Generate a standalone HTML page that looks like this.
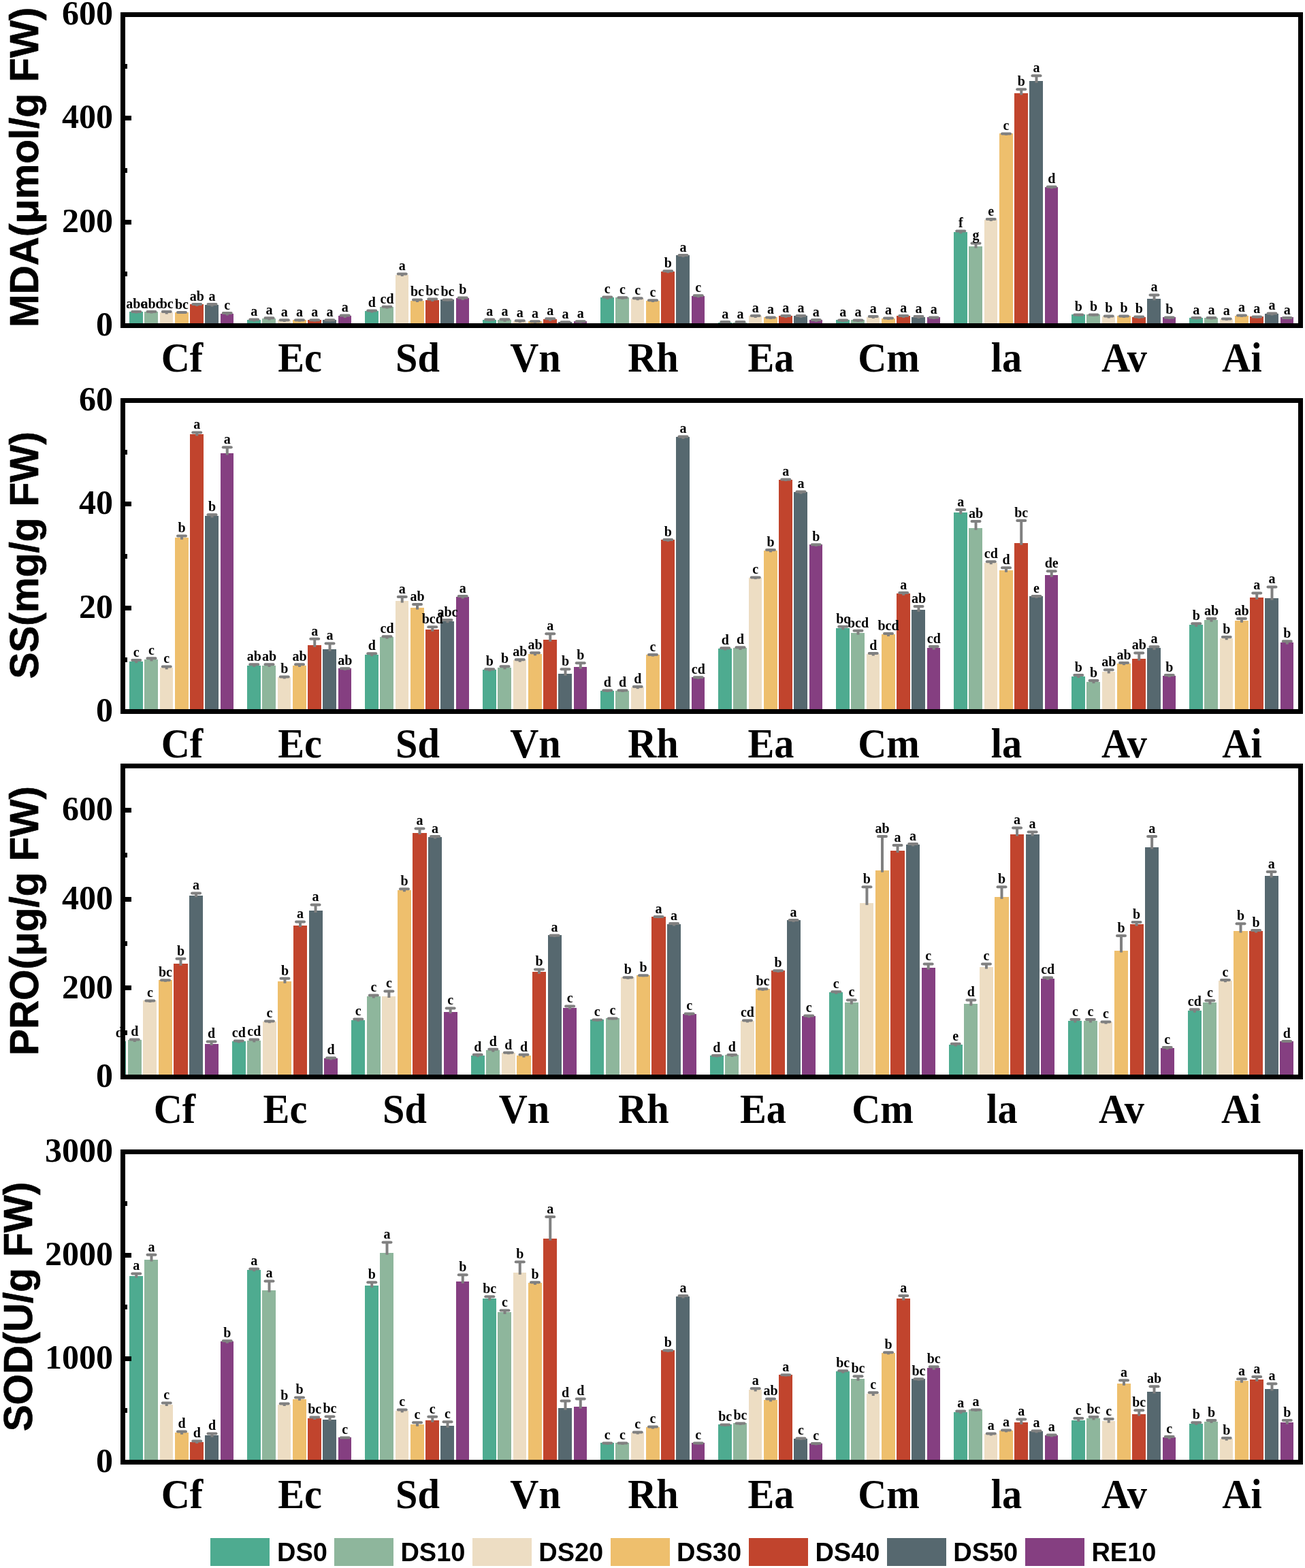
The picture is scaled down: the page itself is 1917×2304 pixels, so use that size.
<!DOCTYPE html>
<html lang="en">
<head>
<meta charset="utf-8">
<title>Physiological indices under drought stress</title>
<style>
html,body{margin:0;padding:0;background:#fff;}
body{width:1917px;height:2304px;overflow:hidden;}
svg{display:block;}
.s{font-family:"Liberation Serif","DejaVu Serif",serif;font-weight:bold;fill:#000;}
.a{font-family:"Liberation Sans","DejaVu Sans",sans-serif;font-weight:bold;fill:#000;}
.l{font-size:20px;text-anchor:middle;}
.t{font-size:50px;text-anchor:end;}
.x{font-size:60.5px;text-anchor:middle;}
.y{font-size:58.45px;text-anchor:middle;stroke:#000;stroke-width:0.6px;stroke-linejoin:round;}
.g{font-size:38px;text-anchor:start;}
.e{stroke:#808080;stroke-width:4;fill:none;}
.c{stroke:#808080;stroke-width:4;fill:none;stroke-linecap:round;}
.k{stroke:#000;stroke-width:7;fill:none;}
</style>
</head>
<body>
<svg width="1917" height="2304" viewBox="0 0 1917 2304">
<rect x="0" y="0" width="1917" height="2304" fill="#fff"/>
<defs>
<clipPath id="cp0"><rect x="180.5" y="21.5" width="1730" height="457"/></clipPath>
<clipPath id="cp1"><rect x="180.5" y="588.5" width="1730" height="457"/></clipPath>
<clipPath id="cp2"><rect x="180.5" y="1125.5" width="1730" height="457"/></clipPath>
<clipPath id="cp3"><rect x="180.5" y="1692.5" width="1730" height="456"/></clipPath>
</defs>
<g id="panel1">
<g clip-path="url(#cp0)" shape-rendering="crispEdges">
<rect x="190" y="458" width="20" height="20" fill="#4EAB90"/>
<rect x="212" y="458" width="20" height="20" fill="#8EB69C"/>
<rect x="235" y="459" width="19" height="19" fill="#EDDDC3"/>
<rect x="257" y="459" width="20" height="19" fill="#EEBF6D"/>
<rect x="279" y="447" width="20" height="31" fill="#C1442D"/>
<rect x="301" y="448" width="20" height="30" fill="#56686F"/>
<rect x="324" y="461" width="19" height="17" fill="#853F81"/>
<rect x="363" y="470" width="20" height="8" fill="#4EAB90"/>
<rect x="385" y="468" width="20" height="10" fill="#8EB69C"/>
<rect x="408" y="470" width="19" height="8" fill="#EDDDC3"/>
<rect x="430" y="470" width="20" height="8" fill="#EEBF6D"/>
<rect x="452" y="470" width="20" height="8" fill="#C1442D"/>
<rect x="474" y="470" width="20" height="8" fill="#56686F"/>
<rect x="497" y="464" width="19" height="14" fill="#853F81"/>
<rect x="536" y="457" width="20" height="21" fill="#4EAB90"/>
<rect x="558" y="451" width="20" height="27" fill="#8EB69C"/>
<rect x="581" y="404" width="19" height="74" fill="#EDDDC3"/>
<rect x="603" y="442" width="20" height="36" fill="#EEBF6D"/>
<rect x="625" y="441" width="20" height="37" fill="#C1442D"/>
<rect x="647" y="440" width="20" height="38" fill="#56686F"/>
<rect x="670" y="438" width="19" height="40" fill="#853F81"/>
<rect x="709" y="470" width="20" height="8" fill="#4EAB90"/>
<rect x="731" y="470" width="20" height="8" fill="#8EB69C"/>
<rect x="754" y="472" width="19" height="6" fill="#EDDDC3"/>
<rect x="776" y="472" width="20" height="6" fill="#EEBF6D"/>
<rect x="798" y="469" width="20" height="9" fill="#C1442D"/>
<rect x="820" y="473" width="20" height="5" fill="#56686F"/>
<rect x="843" y="472" width="19" height="6" fill="#853F81"/>
<rect x="882" y="437" width="20" height="41" fill="#4EAB90"/>
<rect x="904" y="437" width="20" height="41" fill="#8EB69C"/>
<rect x="927" y="439" width="19" height="39" fill="#EDDDC3"/>
<rect x="949" y="442" width="20" height="36" fill="#EEBF6D"/>
<rect x="971" y="399" width="20" height="79" fill="#C1442D"/>
<rect x="993" y="375" width="20" height="103" fill="#56686F"/>
<rect x="1016" y="435" width="19" height="43" fill="#853F81"/>
<rect x="1055" y="474" width="20" height="4" fill="#4EAB90"/>
<rect x="1077" y="474" width="20" height="4" fill="#8EB69C"/>
<rect x="1100" y="464" width="19" height="14" fill="#EDDDC3"/>
<rect x="1122" y="466" width="20" height="12" fill="#EEBF6D"/>
<rect x="1144" y="464" width="20" height="14" fill="#C1442D"/>
<rect x="1166" y="464" width="20" height="14" fill="#56686F"/>
<rect x="1189" y="470" width="19" height="8" fill="#853F81"/>
<rect x="1228" y="470" width="20" height="8" fill="#4EAB90"/>
<rect x="1250" y="470" width="20" height="8" fill="#8EB69C"/>
<rect x="1273" y="466" width="19" height="12" fill="#EDDDC3"/>
<rect x="1295" y="468" width="20" height="10" fill="#EEBF6D"/>
<rect x="1317" y="464" width="20" height="14" fill="#C1442D"/>
<rect x="1339" y="466" width="20" height="12" fill="#56686F"/>
<rect x="1362" y="466" width="19" height="12" fill="#853F81"/>
<rect x="1401" y="341" width="20" height="137" fill="#4EAB90"/>
<rect x="1423" y="362" width="20" height="116" fill="#8EB69C"/>
<rect x="1446" y="323" width="19" height="155" fill="#EDDDC3"/>
<rect x="1468" y="196" width="20" height="282" fill="#EEBF6D"/>
<rect x="1490" y="137" width="20" height="341" fill="#C1442D"/>
<rect x="1512" y="119" width="20" height="359" fill="#56686F"/>
<rect x="1535" y="275" width="19" height="203" fill="#853F81"/>
<rect x="1574" y="462" width="20" height="16" fill="#4EAB90"/>
<rect x="1596" y="462" width="20" height="16" fill="#8EB69C"/>
<rect x="1619" y="465" width="19" height="13" fill="#EDDDC3"/>
<rect x="1641" y="464" width="20" height="14" fill="#EEBF6D"/>
<rect x="1663" y="466" width="20" height="12" fill="#C1442D"/>
<rect x="1685" y="439" width="20" height="39" fill="#56686F"/>
<rect x="1708" y="466" width="19" height="12" fill="#853F81"/>
<rect x="1747" y="467" width="20" height="11" fill="#4EAB90"/>
<rect x="1769" y="467" width="20" height="11" fill="#8EB69C"/>
<rect x="1792" y="469" width="19" height="9" fill="#EDDDC3"/>
<rect x="1814" y="464" width="20" height="14" fill="#EEBF6D"/>
<rect x="1836" y="465" width="20" height="13" fill="#C1442D"/>
<rect x="1858" y="461" width="20" height="17" fill="#56686F"/>
<rect x="1881" y="466" width="19" height="12" fill="#853F81"/>
</g>
<g clip-path="url(#cp0)">
<path class="e" d="M200.25 458.1V460.6"/><path class="c" d="M194.25 458.1H206.25"/>
<path class="e" d="M222.5 458.1V460.6"/><path class="c" d="M216.5 458.1H228.5"/>
<path class="e" d="M244.75 458.1V461.5"/><path class="c" d="M238.75 458.1H250.75"/>
<path class="e" d="M267 459.1V461.1"/><path class="c" d="M261 459.1H273"/>
<path class="e" d="M289.25 446.9V449.9"/><path class="c" d="M283.25 446.9H295.25"/>
<path class="e" d="M311.5 446.9V450.4"/><path class="c" d="M305.5 446.9H317.5"/>
<path class="e" d="M333.75 460.1V463.5"/><path class="c" d="M327.75 460.1H339.75"/>
<path class="e" d="M373.25 469.5V472.6"/><path class="c" d="M367.25 469.5H379.25"/>
<path class="e" d="M395.5 467.3V470.6"/><path class="c" d="M389.5 467.3H401.5"/>
<path class="e" d="M417.75 470.3V473"/><path class="c" d="M411.75 470.3H423.75"/>
<path class="e" d="M440 470.3V472.6"/><path class="c" d="M434 470.3H446"/>
<path class="e" d="M462.25 470.3V472.6"/><path class="c" d="M456.25 470.3H468.25"/>
<path class="e" d="M484.5 470.3V472.6"/><path class="c" d="M478.5 470.3H490.5"/>
<path class="e" d="M506.75 463.5V467"/><path class="c" d="M500.75 463.5H512.75"/>
<path class="e" d="M546.25 456.5V459.6"/><path class="c" d="M540.25 456.5H552.25"/>
<path class="e" d="M568.5 450.7V453.6"/><path class="c" d="M562.5 450.7H574.5"/>
<path class="e" d="M590.75 402.5V406"/><path class="c" d="M584.75 402.5H596.75"/>
<path class="e" d="M613 440.4V444.1"/><path class="c" d="M607 440.4H619"/>
<path class="e" d="M635.25 439.6V443.1"/><path class="c" d="M629.25 439.6H641.25"/>
<path class="e" d="M657.5 440.4V442.5"/><path class="c" d="M651.5 440.4H663.5"/>
<path class="e" d="M679.75 437.4V440.9"/><path class="c" d="M673.75 437.4H685.75"/>
<path class="e" d="M719.25 469.6V472.1"/><path class="c" d="M713.25 469.6H725.25"/>
<path class="e" d="M741.5 469.2V472.7"/><path class="c" d="M735.5 469.2H747.5"/>
<path class="e" d="M763.75 471.2V474.1"/><path class="c" d="M757.75 471.2H769.75"/>
<path class="e" d="M786 472.2V474.7"/><path class="c" d="M780 472.2H792"/>
<path class="e" d="M808.25 468.2V471.7"/><path class="c" d="M802.25 468.2H814.25"/>
<path class="e" d="M830.5 473.2V475.7"/><path class="c" d="M824.5 473.2H836.5"/>
<path class="e" d="M852.75 472.2V474.7"/><path class="c" d="M846.75 472.2H858.75"/>
<path class="e" d="M892.25 436.4V439.7"/><path class="c" d="M886.25 436.4H898.25"/>
<path class="e" d="M914.5 437.2V439.7"/><path class="c" d="M908.5 437.2H920.5"/>
<path class="e" d="M936.75 438.2V441.3"/><path class="c" d="M930.75 438.2H942.75"/>
<path class="e" d="M959 441.2V444.1"/><path class="c" d="M953 441.2H965"/>
<path class="e" d="M981.25 398.3V401.2"/><path class="c" d="M975.25 398.3H987.25"/>
<path class="e" d="M1003.5 375V377.9"/><path class="c" d="M997.5 375H1009.5"/>
<path class="e" d="M1025.75 434.2V437.3"/><path class="c" d="M1019.75 434.2H1031.75"/>
<path class="e" d="M1065.25 473.1V476"/><path class="c" d="M1059.25 473.1H1071.25"/>
<path class="e" d="M1087.5 473.1V476"/><path class="c" d="M1081.5 473.1H1093.5"/>
<path class="e" d="M1109.75 464.1V467"/><path class="c" d="M1103.75 464.1H1115.75"/>
<path class="e" d="M1132 466.5V469"/><path class="c" d="M1126 466.5H1138"/>
<path class="e" d="M1154.25 464.1V467"/><path class="c" d="M1148.25 464.1H1160.25"/>
<path class="e" d="M1176.5 464.1V467"/><path class="c" d="M1170.5 464.1H1182.5"/>
<path class="e" d="M1198.75 470.1V473"/><path class="c" d="M1192.75 470.1H1204.75"/>
<path class="e" d="M1238.25 470.5V473"/><path class="c" d="M1232.25 470.5H1244.25"/>
<path class="e" d="M1260.5 470.5V473"/><path class="c" d="M1254.5 470.5H1266.5"/>
<path class="e" d="M1282.75 465.1V468"/><path class="c" d="M1276.75 465.1H1288.75"/>
<path class="e" d="M1305 467.5V470"/><path class="c" d="M1299 467.5H1311"/>
<path class="e" d="M1327.25 464.1V467"/><path class="c" d="M1321.25 464.1H1333.25"/>
<path class="e" d="M1349.5 465.1V468"/><path class="c" d="M1343.5 465.1H1355.5"/>
<path class="e" d="M1371.75 466.5V469"/><path class="c" d="M1365.75 466.5H1377.75"/>
<path class="e" d="M1411.25 339.5V343.3"/><path class="c" d="M1405.25 339.5H1417.25"/>
<path class="e" d="M1433.5 357.4V364.5"/><path class="c" d="M1427.5 357.4H1439.5"/>
<path class="e" d="M1455.75 322.1V325.1"/><path class="c" d="M1449.75 322.1H1461.75"/>
<path class="e" d="M1478 196.4V198.8"/><path class="c" d="M1472 196.4H1484"/>
<path class="e" d="M1500.25 131.2V139.6"/><path class="c" d="M1494.25 131.2H1506.25"/>
<path class="e" d="M1522.5 111.3V121.8"/><path class="c" d="M1516.5 111.3H1528.5"/>
<path class="e" d="M1544.75 274.5V277.3"/><path class="c" d="M1538.75 274.5H1550.75"/>
<path class="e" d="M1584.25 462.4V464.6"/><path class="c" d="M1578.25 462.4H1590.25"/>
<path class="e" d="M1606.5 462.4V464.6"/><path class="c" d="M1600.5 462.4H1612.5"/>
<path class="e" d="M1628.75 464.5V467.6"/><path class="c" d="M1622.75 464.5H1634.75"/>
<path class="e" d="M1651 464.5V467"/><path class="c" d="M1645 464.5H1657"/>
<path class="e" d="M1673.25 465.5V468.2"/><path class="c" d="M1667.25 465.5H1679.25"/>
<path class="e" d="M1695.5 433.6V441.2"/><path class="c" d="M1689.5 433.6H1701.5"/>
<path class="e" d="M1717.75 466.5V469"/><path class="c" d="M1711.75 466.5H1723.75"/>
<path class="e" d="M1757.25 467.1V469.6"/><path class="c" d="M1751.25 467.1H1763.25"/>
<path class="e" d="M1779.5 467.1V469.6"/><path class="c" d="M1773.5 467.1H1785.5"/>
<path class="e" d="M1801.75 468.5V471.1"/><path class="c" d="M1795.75 468.5H1807.75"/>
<path class="e" d="M1824 463.4V466"/><path class="c" d="M1818 463.4H1830"/>
<path class="e" d="M1846.25 465.5V467.6"/><path class="c" d="M1840.25 465.5H1852.25"/>
<path class="e" d="M1868.5 460.4V463.5"/><path class="c" d="M1862.5 460.4H1874.5"/>
<path class="e" d="M1890.75 467.1V469"/><path class="c" d="M1884.75 467.1H1896.75"/>
</g>
<g class="s l" transform="scale(1.0 1)">
<text x="200.25" y="452.9">abc</text>
<text x="222.5" y="452.9">abc</text>
<text x="244.75" y="452.9">bc</text>
<text x="267" y="453.9">bc</text>
<text x="289.25" y="441.7">ab</text>
<text x="311.5" y="441.7">a</text>
<text x="333.75" y="454.9">c</text>
<text x="373.25" y="464.3">a</text>
<text x="395.5" y="462.1">a</text>
<text x="417.75" y="465.1">a</text>
<text x="440" y="465.1">a</text>
<text x="462.25" y="465.1">a</text>
<text x="484.5" y="465.1">a</text>
<text x="506.75" y="458.3">a</text>
<text x="546.25" y="451.3">d</text>
<text x="568.5" y="445.5">cd</text>
<text x="590.75" y="397.3">a</text>
<text x="613" y="435.2">bc</text>
<text x="635.25" y="434.4">bc</text>
<text x="657.5" y="435.2">bc</text>
<text x="679.75" y="432.2">b</text>
<text x="719.25" y="464.4">a</text>
<text x="741.5" y="464">a</text>
<text x="763.75" y="466">a</text>
<text x="786" y="467">a</text>
<text x="808.25" y="463">a</text>
<text x="830.5" y="468">a</text>
<text x="852.75" y="467">a</text>
<text x="892.25" y="431.2">c</text>
<text x="914.5" y="432">c</text>
<text x="936.75" y="433">c</text>
<text x="959" y="436">c</text>
<text x="981.25" y="393.1">b</text>
<text x="1003.5" y="369.8">a</text>
<text x="1025.75" y="429">c</text>
<text x="1065.25" y="467.9">a</text>
<text x="1087.5" y="467.9">a</text>
<text x="1109.75" y="458.9">a</text>
<text x="1132" y="461.3">a</text>
<text x="1154.25" y="458.9">a</text>
<text x="1176.5" y="458.9">a</text>
<text x="1198.75" y="464.9">a</text>
<text x="1238.25" y="465.3">a</text>
<text x="1260.5" y="465.3">a</text>
<text x="1282.75" y="459.9">a</text>
<text x="1305" y="462.3">a</text>
<text x="1327.25" y="458.9">a</text>
<text x="1349.5" y="459.9">a</text>
<text x="1371.75" y="461.3">a</text>
<text x="1411.25" y="334.3">f</text>
<text x="1433.5" y="352.2">g</text>
<text x="1455.75" y="316.9">e</text>
<text x="1478" y="191.2">c</text>
<text x="1500.25" y="126">b</text>
<text x="1522.5" y="106.1">a</text>
<text x="1544.75" y="269.3">d</text>
<text x="1584.25" y="457.2">b</text>
<text x="1606.5" y="457.2">b</text>
<text x="1628.75" y="459.3">b</text>
<text x="1651" y="459.3">b</text>
<text x="1673.25" y="460.3">b</text>
<text x="1695.5" y="428.4">a</text>
<text x="1717.75" y="461.3">b</text>
<text x="1757.25" y="461.9">a</text>
<text x="1779.5" y="461.9">a</text>
<text x="1801.75" y="463.3">a</text>
<text x="1824" y="458.2">a</text>
<text x="1846.25" y="460.3">a</text>
<text x="1868.5" y="455.2">a</text>
<text x="1890.75" y="461.9">a</text>
</g>
<rect class="k" x="180.5" y="21.5" width="1730" height="457"/>
<path class="k" d="M180.5 478.5H193M180.5 326.5H193M180.5 173.5H193M180.5 21.5H193M180.5 402.5H187M180.5 250.5H187M180.5 97.5H187"/>
<g class="s t">
<text x="166" y="493.1">0</text>
<text x="166" y="340.77">200</text>
<text x="166" y="188.43">400</text>
<text x="166" y="36.1">600</text>
</g>
<text class="a y" transform="translate(55.5 245.75) rotate(-90) scale(1 1.02)">MDA(μmol/g FW)</text>
<g class="s x" transform="scale(0.963 1)">
<text x="277.78" y="546">Cf</text>
<text x="457.42" y="546">Ec</text>
<text x="637.07" y="546">Sd</text>
<text x="816.72" y="546">Vn</text>
<text x="996.37" y="546">Rh</text>
<text x="1176.01" y="546">Ea</text>
<text x="1355.66" y="546">Cm</text>
<text x="1535.31" y="546">la</text>
<text x="1714.95" y="546">Av</text>
<text x="1894.6" y="546">Ai</text>
</g>
</g>
<g id="panel2">
<g clip-path="url(#cp1)" shape-rendering="crispEdges">
<rect x="190" y="972" width="20" height="73" fill="#4EAB90"/>
<rect x="212" y="969" width="20" height="76" fill="#8EB69C"/>
<rect x="235" y="981" width="19" height="64" fill="#EDDDC3"/>
<rect x="257" y="790" width="20" height="255" fill="#EEBF6D"/>
<rect x="279" y="638" width="20" height="407" fill="#C1442D"/>
<rect x="301" y="758" width="20" height="287" fill="#56686F"/>
<rect x="324" y="666" width="19" height="379" fill="#853F81"/>
<rect x="363" y="978" width="20" height="67" fill="#4EAB90"/>
<rect x="385" y="978" width="20" height="67" fill="#8EB69C"/>
<rect x="408" y="995" width="19" height="50" fill="#EDDDC3"/>
<rect x="430" y="978" width="20" height="67" fill="#EEBF6D"/>
<rect x="452" y="948" width="20" height="97" fill="#C1442D"/>
<rect x="474" y="954" width="20" height="91" fill="#56686F"/>
<rect x="497" y="982" width="19" height="63" fill="#853F81"/>
<rect x="536" y="962" width="20" height="83" fill="#4EAB90"/>
<rect x="558" y="936" width="20" height="109" fill="#8EB69C"/>
<rect x="581" y="883" width="19" height="162" fill="#EDDDC3"/>
<rect x="603" y="893" width="20" height="152" fill="#EEBF6D"/>
<rect x="625" y="925" width="20" height="120" fill="#C1442D"/>
<rect x="647" y="913" width="20" height="132" fill="#56686F"/>
<rect x="670" y="877" width="19" height="168" fill="#853F81"/>
<rect x="709" y="984" width="20" height="61" fill="#4EAB90"/>
<rect x="731" y="981" width="20" height="64" fill="#8EB69C"/>
<rect x="754" y="970" width="19" height="75" fill="#EDDDC3"/>
<rect x="776" y="961" width="20" height="84" fill="#EEBF6D"/>
<rect x="798" y="940" width="20" height="105" fill="#C1442D"/>
<rect x="820" y="990" width="20" height="55" fill="#56686F"/>
<rect x="843" y="980" width="19" height="65" fill="#853F81"/>
<rect x="882" y="1015" width="20" height="30" fill="#4EAB90"/>
<rect x="904" y="1015" width="20" height="30" fill="#8EB69C"/>
<rect x="927" y="1010" width="19" height="35" fill="#EDDDC3"/>
<rect x="949" y="962" width="20" height="83" fill="#EEBF6D"/>
<rect x="971" y="793" width="20" height="252" fill="#C1442D"/>
<rect x="993" y="642" width="20" height="403" fill="#56686F"/>
<rect x="1016" y="995" width="19" height="50" fill="#853F81"/>
<rect x="1055" y="953" width="20" height="92" fill="#4EAB90"/>
<rect x="1077" y="952" width="20" height="93" fill="#8EB69C"/>
<rect x="1100" y="849" width="19" height="196" fill="#EDDDC3"/>
<rect x="1122" y="809" width="20" height="236" fill="#EEBF6D"/>
<rect x="1144" y="705" width="20" height="340" fill="#C1442D"/>
<rect x="1166" y="723" width="20" height="322" fill="#56686F"/>
<rect x="1189" y="800" width="19" height="245" fill="#853F81"/>
<rect x="1228" y="923" width="20" height="122" fill="#4EAB90"/>
<rect x="1250" y="930" width="20" height="115" fill="#8EB69C"/>
<rect x="1273" y="961" width="19" height="84" fill="#EDDDC3"/>
<rect x="1295" y="932" width="20" height="113" fill="#EEBF6D"/>
<rect x="1317" y="872" width="20" height="173" fill="#C1442D"/>
<rect x="1339" y="896" width="20" height="149" fill="#56686F"/>
<rect x="1362" y="952" width="19" height="93" fill="#853F81"/>
<rect x="1401" y="753" width="20" height="292" fill="#4EAB90"/>
<rect x="1423" y="776" width="20" height="269" fill="#8EB69C"/>
<rect x="1446" y="827" width="19" height="218" fill="#EDDDC3"/>
<rect x="1468" y="838" width="20" height="207" fill="#EEBF6D"/>
<rect x="1490" y="798" width="20" height="247" fill="#C1442D"/>
<rect x="1512" y="876" width="20" height="169" fill="#56686F"/>
<rect x="1535" y="845" width="19" height="200" fill="#853F81"/>
<rect x="1574" y="994" width="20" height="51" fill="#4EAB90"/>
<rect x="1596" y="1002" width="20" height="43" fill="#8EB69C"/>
<rect x="1619" y="987" width="19" height="58" fill="#EDDDC3"/>
<rect x="1641" y="975" width="20" height="70" fill="#EEBF6D"/>
<rect x="1663" y="968" width="20" height="77" fill="#C1442D"/>
<rect x="1685" y="952" width="20" height="93" fill="#56686F"/>
<rect x="1708" y="993" width="19" height="52" fill="#853F81"/>
<rect x="1747" y="918" width="20" height="127" fill="#4EAB90"/>
<rect x="1769" y="911" width="20" height="134" fill="#8EB69C"/>
<rect x="1792" y="938" width="19" height="107" fill="#EDDDC3"/>
<rect x="1814" y="912" width="20" height="133" fill="#EEBF6D"/>
<rect x="1836" y="878" width="20" height="167" fill="#C1442D"/>
<rect x="1858" y="879" width="20" height="166" fill="#56686F"/>
<rect x="1881" y="944" width="19" height="101" fill="#853F81"/>
</g>
<g clip-path="url(#cp1)">
<path class="e" d="M200.25 970.1V974.3"/><path class="c" d="M194.25 970.1H206.25"/>
<path class="e" d="M222.5 967.3V971.5"/><path class="c" d="M216.5 967.3H228.5"/>
<path class="e" d="M244.75 979.5V983.5"/><path class="c" d="M238.75 979.5H250.75"/>
<path class="e" d="M267 787.6V792.8"/><path class="c" d="M261 787.6H273"/>
<path class="e" d="M289.25 635.4V640.6"/><path class="c" d="M283.25 635.4H295.25"/>
<path class="e" d="M311.5 756.3V760.6"/><path class="c" d="M305.5 756.3H317.5"/>
<path class="e" d="M333.75 657.3V668.5"/><path class="c" d="M327.75 657.3H339.75"/>
<path class="e" d="M373.25 976.3V980"/><path class="c" d="M367.25 976.3H379.25"/>
<path class="e" d="M395.5 976.3V980"/><path class="c" d="M389.5 976.3H401.5"/>
<path class="e" d="M417.75 994.5V997.4"/><path class="c" d="M411.75 994.5H423.75"/>
<path class="e" d="M440 976.3V980"/><path class="c" d="M434 976.3H446"/>
<path class="e" d="M462.25 938.8V950.7"/><path class="c" d="M456.25 938.8H468.25"/>
<path class="e" d="M484.5 945.5V956.7"/><path class="c" d="M478.5 945.5H490.5"/>
<path class="e" d="M506.75 982.3V985"/><path class="c" d="M500.75 982.3H512.75"/>
<path class="e" d="M546.25 960.2V964.3"/><path class="c" d="M540.25 960.2H552.25"/>
<path class="e" d="M568.5 935.2V938.7"/><path class="c" d="M562.5 935.2H574.5"/>
<path class="e" d="M590.75 877.1V885.6"/><path class="c" d="M584.75 877.1H596.75"/>
<path class="e" d="M613 888.1V895.6"/><path class="c" d="M607 888.1H619"/>
<path class="e" d="M635.25 921.2V927.7"/><path class="c" d="M629.25 921.2H641.25"/>
<path class="e" d="M657.5 911.1V915.2"/><path class="c" d="M651.5 911.1H663.5"/>
<path class="e" d="M679.75 876.1V879.6"/><path class="c" d="M673.75 876.1H685.75"/>
<path class="e" d="M719.25 983.3V986.4"/><path class="c" d="M713.25 983.3H725.25"/>
<path class="e" d="M741.5 979.3V983.4"/><path class="c" d="M735.5 979.3H747.5"/>
<path class="e" d="M763.75 969.3V972.8"/><path class="c" d="M757.75 969.3H769.75"/>
<path class="e" d="M786 959.2V963.3"/><path class="c" d="M780 959.2H792"/>
<path class="e" d="M808.25 931.2V942.7"/><path class="c" d="M802.25 931.2H814.25"/>
<path class="e" d="M830.5 983.3V992.8"/><path class="c" d="M824.5 983.3H836.5"/>
<path class="e" d="M852.75 974.3V982.8"/><path class="c" d="M846.75 974.3H858.75"/>
<path class="e" d="M892.25 1014.5V1017.1"/><path class="c" d="M886.25 1014.5H898.25"/>
<path class="e" d="M914.5 1014.5V1017.1"/><path class="c" d="M908.5 1014.5H920.5"/>
<path class="e" d="M936.75 1009.1V1012.2"/><path class="c" d="M930.75 1009.1H942.75"/>
<path class="e" d="M959 962V964.6"/><path class="c" d="M953 962H965"/>
<path class="e" d="M981.25 793.1V795.8"/><path class="c" d="M975.25 793.1H987.25"/>
<path class="e" d="M1003.5 641.6V644.9"/><path class="c" d="M997.5 641.6H1009.5"/>
<path class="e" d="M1025.75 995.2V997.8"/><path class="c" d="M1019.75 995.2H1031.75"/>
<path class="e" d="M1065.25 952.3V955.6"/><path class="c" d="M1059.25 952.3H1071.25"/>
<path class="e" d="M1087.5 951.3V955"/><path class="c" d="M1081.5 951.3H1093.5"/>
<path class="e" d="M1109.75 848.4V851.1"/><path class="c" d="M1103.75 848.4H1115.75"/>
<path class="e" d="M1132 808.1V811.4"/><path class="c" d="M1126 808.1H1138"/>
<path class="e" d="M1154.25 704.4V707.1"/><path class="c" d="M1148.25 704.4H1160.25"/>
<path class="e" d="M1176.5 722.4V725.7"/><path class="c" d="M1170.5 722.4H1182.5"/>
<path class="e" d="M1198.75 800.2V802.8"/><path class="c" d="M1192.75 800.2H1204.75"/>
<path class="e" d="M1238.25 920.8V925.3"/><path class="c" d="M1232.25 920.8H1244.25"/>
<path class="e" d="M1260.5 926.8V932.6"/><path class="c" d="M1254.5 926.8H1266.5"/>
<path class="e" d="M1282.75 960.1V963.6"/><path class="c" d="M1276.75 960.1H1288.75"/>
<path class="e" d="M1305 931.1V935"/><path class="c" d="M1299 931.1H1311"/>
<path class="e" d="M1327.25 870.9V874.8"/><path class="c" d="M1321.25 870.9H1333.25"/>
<path class="e" d="M1349.5 891V898.9"/><path class="c" d="M1343.5 891H1355.5"/>
<path class="e" d="M1371.75 950.1V954.6"/><path class="c" d="M1365.75 950.1H1377.75"/>
<path class="e" d="M1411.25 749.1V755.6"/><path class="c" d="M1405.25 749.1H1417.25"/>
<path class="e" d="M1433.5 766.1V778.7"/><path class="c" d="M1427.5 766.1H1439.5"/>
<path class="e" d="M1455.75 825.2V829.2"/><path class="c" d="M1449.75 825.2H1461.75"/>
<path class="e" d="M1478 834.3V840.8"/><path class="c" d="M1472 834.3H1484"/>
<path class="e" d="M1500.25 765.1V800.7"/><path class="c" d="M1494.25 765.1H1506.25"/>
<path class="e" d="M1522.5 875.9V878.9"/><path class="c" d="M1516.5 875.9H1528.5"/>
<path class="e" d="M1544.75 839.3V847.8"/><path class="c" d="M1538.75 839.3H1550.75"/>
<path class="e" d="M1584.25 992V996"/><path class="c" d="M1578.25 992H1590.25"/>
<path class="e" d="M1606.5 1000.1V1004.1"/><path class="c" d="M1600.5 1000.1H1612.5"/>
<path class="e" d="M1628.75 984.3V989.5"/><path class="c" d="M1622.75 984.3H1634.75"/>
<path class="e" d="M1651 974.1V977.3"/><path class="c" d="M1645 974.1H1657"/>
<path class="e" d="M1673.25 959.5V970.6"/><path class="c" d="M1667.25 959.5H1679.25"/>
<path class="e" d="M1695.5 950.3V954.9"/><path class="c" d="M1689.5 950.3H1701.5"/>
<path class="e" d="M1717.75 992V995.1"/><path class="c" d="M1711.75 992H1723.75"/>
<path class="e" d="M1757.25 916.2V921"/><path class="c" d="M1751.25 916.2H1763.25"/>
<path class="e" d="M1779.5 909.1V913.7"/><path class="c" d="M1773.5 909.1H1785.5"/>
<path class="e" d="M1801.75 936.1V940.3"/><path class="c" d="M1795.75 936.1H1807.75"/>
<path class="e" d="M1824 909.1V914.7"/><path class="c" d="M1818 909.1H1830"/>
<path class="e" d="M1846.25 871.5V880.7"/><path class="c" d="M1840.25 871.5H1852.25"/>
<path class="e" d="M1868.5 862.4V881.8"/><path class="c" d="M1862.5 862.4H1874.5"/>
<path class="e" d="M1890.75 942.2V946.8"/><path class="c" d="M1884.75 942.2H1896.75"/>
</g>
<g class="s l" transform="scale(1.0 1)">
<text x="200.25" y="964.9">c</text>
<text x="222.5" y="962.1">c</text>
<text x="244.75" y="974.3">c</text>
<text x="267" y="782.4">b</text>
<text x="289.25" y="630.2">a</text>
<text x="311.5" y="751.1">b</text>
<text x="333.75" y="652.1">a</text>
<text x="373.25" y="971.1">ab</text>
<text x="395.5" y="971.1">ab</text>
<text x="417.75" y="989.3">b</text>
<text x="440" y="971.1">ab</text>
<text x="462.25" y="933.6">a</text>
<text x="484.5" y="940.3">a</text>
<text x="506.75" y="977.1">ab</text>
<text x="546.25" y="955">d</text>
<text x="568.5" y="930">cd</text>
<text x="590.75" y="871.9">a</text>
<text x="613" y="882.9">ab</text>
<text x="635.25" y="916">bcd</text>
<text x="657.5" y="905.9">abc</text>
<text x="679.75" y="870.9">a</text>
<text x="719.25" y="978.1">b</text>
<text x="741.5" y="974.1">b</text>
<text x="763.75" y="964.1">ab</text>
<text x="786" y="954">ab</text>
<text x="808.25" y="926">a</text>
<text x="830.5" y="978.1">b</text>
<text x="852.75" y="969.1">b</text>
<text x="892.25" y="1009.3">d</text>
<text x="914.5" y="1009.3">d</text>
<text x="936.75" y="1003.9">d</text>
<text x="959" y="956.8">c</text>
<text x="981.25" y="787.9">b</text>
<text x="1003.5" y="636.4">a</text>
<text x="1025.75" y="990">cd</text>
<text x="1065.25" y="947.1">d</text>
<text x="1087.5" y="946.1">d</text>
<text x="1109.75" y="843.2">c</text>
<text x="1132" y="802.9">b</text>
<text x="1154.25" y="699.2">a</text>
<text x="1176.5" y="717.2">a</text>
<text x="1198.75" y="795">b</text>
<text x="1238.25" y="915.6">bc</text>
<text x="1260.5" y="921.6">bcd</text>
<text x="1282.75" y="954.9">d</text>
<text x="1305" y="925.9">bcd</text>
<text x="1327.25" y="865.7">a</text>
<text x="1349.5" y="885.8">ab</text>
<text x="1371.75" y="944.9">cd</text>
<text x="1411.25" y="743.9">a</text>
<text x="1433.5" y="760.9">ab</text>
<text x="1455.75" y="820">cd</text>
<text x="1478" y="829.1">d</text>
<text x="1500.25" y="759.9">bc</text>
<text x="1522.5" y="870.7">e</text>
<text x="1544.75" y="834.1">de</text>
<text x="1584.25" y="986.8">b</text>
<text x="1606.5" y="994.9">b</text>
<text x="1628.75" y="979.1">ab</text>
<text x="1651" y="968.9">ab</text>
<text x="1673.25" y="954.3">ab</text>
<text x="1695.5" y="945.1">a</text>
<text x="1717.75" y="986.8">b</text>
<text x="1757.25" y="911">b</text>
<text x="1779.5" y="903.9">ab</text>
<text x="1801.75" y="930.9">b</text>
<text x="1824" y="903.9">ab</text>
<text x="1846.25" y="866.3">a</text>
<text x="1868.5" y="857.2">a</text>
<text x="1890.75" y="937">b</text>
</g>
<rect class="k" x="180.5" y="588.5" width="1730" height="457"/>
<path class="k" d="M180.5 1045.5H193M180.5 893.5H193M180.5 740.5H193M180.5 588.5H193M180.5 969.5H187M180.5 817.5H187M180.5 664.5H187"/>
<g class="s t">
<text x="166" y="1060.1">0</text>
<text x="166" y="907.77">20</text>
<text x="166" y="755.43">40</text>
<text x="166" y="603.1">60</text>
</g>
<text class="a y" transform="translate(55.5 815.85) rotate(-90) scale(1 1.02)">SS(mg/g FW)</text>
<g class="s x" transform="scale(0.963 1)">
<text x="277.78" y="1113">Cf</text>
<text x="457.42" y="1113">Ec</text>
<text x="637.07" y="1113">Sd</text>
<text x="816.72" y="1113">Vn</text>
<text x="996.37" y="1113">Rh</text>
<text x="1176.01" y="1113">Ea</text>
<text x="1355.66" y="1113">Cm</text>
<text x="1535.31" y="1113">la</text>
<text x="1714.95" y="1113">Av</text>
<text x="1894.6" y="1113">Ai</text>
</g>
</g>
<g id="panel3">
<g clip-path="url(#cp2)" shape-rendering="crispEdges">
<rect x="165" y="1530" width="20" height="52" fill="#4EAB90"/>
<rect x="188" y="1528" width="20" height="54" fill="#8EB69C"/>
<rect x="210" y="1470" width="20" height="112" fill="#EDDDC3"/>
<rect x="233" y="1440" width="20" height="142" fill="#EEBF6D"/>
<rect x="255" y="1416" width="21" height="166" fill="#C1442D"/>
<rect x="278" y="1316" width="20" height="266" fill="#56686F"/>
<rect x="301" y="1534" width="20" height="48" fill="#853F81"/>
<rect x="341" y="1530" width="20" height="52" fill="#4EAB90"/>
<rect x="363" y="1529" width="20" height="53" fill="#8EB69C"/>
<rect x="386" y="1501" width="20" height="81" fill="#EDDDC3"/>
<rect x="408" y="1442" width="20" height="140" fill="#EEBF6D"/>
<rect x="431" y="1360" width="20" height="222" fill="#C1442D"/>
<rect x="454" y="1338" width="20" height="244" fill="#56686F"/>
<rect x="476" y="1555" width="20" height="27" fill="#853F81"/>
<rect x="516" y="1499" width="20" height="83" fill="#4EAB90"/>
<rect x="539" y="1464" width="20" height="118" fill="#8EB69C"/>
<rect x="561" y="1464" width="20" height="118" fill="#EDDDC3"/>
<rect x="584" y="1308" width="20" height="274" fill="#EEBF6D"/>
<rect x="606" y="1224" width="21" height="358" fill="#C1442D"/>
<rect x="629" y="1230" width="20" height="352" fill="#56686F"/>
<rect x="652" y="1487" width="20" height="95" fill="#853F81"/>
<rect x="692" y="1551" width="20" height="31" fill="#4EAB90"/>
<rect x="714" y="1543" width="20" height="39" fill="#8EB69C"/>
<rect x="737" y="1547" width="20" height="35" fill="#EDDDC3"/>
<rect x="759" y="1551" width="21" height="31" fill="#EEBF6D"/>
<rect x="782" y="1428" width="20" height="154" fill="#C1442D"/>
<rect x="805" y="1374" width="20" height="208" fill="#56686F"/>
<rect x="827" y="1481" width="20" height="101" fill="#853F81"/>
<rect x="867" y="1498" width="20" height="84" fill="#4EAB90"/>
<rect x="890" y="1496" width="20" height="86" fill="#8EB69C"/>
<rect x="912" y="1436" width="20" height="146" fill="#EDDDC3"/>
<rect x="935" y="1433" width="20" height="149" fill="#EEBF6D"/>
<rect x="957" y="1347" width="21" height="235" fill="#C1442D"/>
<rect x="980" y="1358" width="20" height="224" fill="#56686F"/>
<rect x="1003" y="1490" width="20" height="92" fill="#853F81"/>
<rect x="1043" y="1551" width="20" height="31" fill="#4EAB90"/>
<rect x="1065" y="1550" width="20" height="32" fill="#8EB69C"/>
<rect x="1088" y="1500" width="20" height="82" fill="#EDDDC3"/>
<rect x="1110" y="1453" width="21" height="129" fill="#EEBF6D"/>
<rect x="1133" y="1426" width="20" height="156" fill="#C1442D"/>
<rect x="1156" y="1352" width="20" height="230" fill="#56686F"/>
<rect x="1178" y="1493" width="20" height="89" fill="#853F81"/>
<rect x="1218" y="1458" width="20" height="124" fill="#4EAB90"/>
<rect x="1241" y="1473" width="20" height="109" fill="#8EB69C"/>
<rect x="1263" y="1327" width="20" height="255" fill="#EDDDC3"/>
<rect x="1286" y="1279" width="20" height="303" fill="#EEBF6D"/>
<rect x="1308" y="1250" width="21" height="332" fill="#C1442D"/>
<rect x="1331" y="1241" width="20" height="341" fill="#56686F"/>
<rect x="1354" y="1422" width="20" height="160" fill="#853F81"/>
<rect x="1394" y="1535" width="20" height="47" fill="#4EAB90"/>
<rect x="1416" y="1475" width="20" height="107" fill="#8EB69C"/>
<rect x="1439" y="1421" width="20" height="161" fill="#EDDDC3"/>
<rect x="1461" y="1318" width="21" height="264" fill="#EEBF6D"/>
<rect x="1484" y="1226" width="20" height="356" fill="#C1442D"/>
<rect x="1507" y="1226" width="20" height="356" fill="#56686F"/>
<rect x="1529" y="1438" width="20" height="144" fill="#853F81"/>
<rect x="1569" y="1500" width="20" height="82" fill="#4EAB90"/>
<rect x="1592" y="1500" width="20" height="82" fill="#8EB69C"/>
<rect x="1614" y="1502" width="20" height="80" fill="#EDDDC3"/>
<rect x="1637" y="1397" width="20" height="185" fill="#EEBF6D"/>
<rect x="1660" y="1358" width="20" height="224" fill="#C1442D"/>
<rect x="1682" y="1245" width="20" height="337" fill="#56686F"/>
<rect x="1705" y="1540" width="20" height="42" fill="#853F81"/>
<rect x="1745" y="1485" width="20" height="97" fill="#4EAB90"/>
<rect x="1767" y="1473" width="20" height="109" fill="#8EB69C"/>
<rect x="1790" y="1441" width="20" height="141" fill="#EDDDC3"/>
<rect x="1812" y="1368" width="21" height="214" fill="#EEBF6D"/>
<rect x="1835" y="1368" width="20" height="214" fill="#C1442D"/>
<rect x="1858" y="1287" width="20" height="295" fill="#56686F"/>
<rect x="1880" y="1530" width="20" height="52" fill="#853F81"/>
</g>
<g clip-path="url(#cp2)">
<path class="e" d="M175.25 1528.9V1532.6"/><path class="c" d="M169.25 1528.9H181.25"/>
<path class="e" d="M197.81 1527.5V1531"/><path class="c" d="M191.81 1527.5H203.81"/>
<path class="e" d="M220.37 1470.4V1472.9"/><path class="c" d="M214.37 1470.4H226.37"/>
<path class="e" d="M242.93 1440.3V1442.8"/><path class="c" d="M236.93 1440.3H248.93"/>
<path class="e" d="M265.49 1408.7V1418.8"/><path class="c" d="M259.49 1408.7H271.49"/>
<path class="e" d="M288.05 1312.5V1318.2"/><path class="c" d="M282.05 1312.5H294.05"/>
<path class="e" d="M310.61 1530.5V1536"/><path class="c" d="M304.61 1530.5H316.61"/>
<path class="e" d="M350.76 1529.5V1532.6"/><path class="c" d="M344.76 1529.5H356.76"/>
<path class="e" d="M373.32 1527.5V1531.4"/><path class="c" d="M367.32 1527.5H379.32"/>
<path class="e" d="M395.88 1500.4V1503.3"/><path class="c" d="M389.88 1500.4H401.88"/>
<path class="e" d="M418.44 1437.7V1444.8"/><path class="c" d="M412.44 1437.7H424.44"/>
<path class="e" d="M441 1354.5V1362.1"/><path class="c" d="M435 1354.5H447"/>
<path class="e" d="M463.56 1329.5V1341"/><path class="c" d="M457.56 1329.5H469.56"/>
<path class="e" d="M486.12 1554.5V1557.5"/><path class="c" d="M480.12 1554.5H492.12"/>
<path class="e" d="M526.27 1497.6V1501.1"/><path class="c" d="M520.27 1497.6H532.27"/>
<path class="e" d="M548.83 1462.5V1466.6"/><path class="c" d="M542.83 1462.5H554.83"/>
<path class="e" d="M571.39 1456.5V1466"/><path class="c" d="M565.39 1456.5H577.39"/>
<path class="e" d="M593.95 1306.2V1310.3"/><path class="c" d="M587.95 1306.2H599.95"/>
<path class="e" d="M616.51 1217.5V1226"/><path class="c" d="M610.51 1217.5H622.51"/>
<path class="e" d="M639.07 1229.1V1232.6"/><path class="c" d="M633.07 1229.1H645.07"/>
<path class="e" d="M661.63 1481.6V1489.1"/><path class="c" d="M655.63 1481.6H667.63"/>
<path class="e" d="M701.78 1549.7V1553.2"/><path class="c" d="M695.78 1549.7H707.78"/>
<path class="e" d="M724.34 1541.7V1545.8"/><path class="c" d="M718.34 1541.7H730.34"/>
<path class="e" d="M746.9 1546.7V1549.2"/><path class="c" d="M740.9 1546.7H752.9"/>
<path class="e" d="M769.46 1549.7V1553.8"/><path class="c" d="M763.46 1549.7H775.46"/>
<path class="e" d="M792.02 1424.5V1431"/><path class="c" d="M786.02 1424.5H798.02"/>
<path class="e" d="M814.58 1374.4V1376.9"/><path class="c" d="M808.58 1374.4H820.58"/>
<path class="e" d="M837.14 1478.6V1483.1"/><path class="c" d="M831.14 1478.6H843.14"/>
<path class="e" d="M877.29 1498.4V1500.9"/><path class="c" d="M871.29 1498.4H883.29"/>
<path class="e" d="M899.85 1496.4V1498.5"/><path class="c" d="M893.85 1496.4H905.85"/>
<path class="e" d="M922.41 1436.3V1438.8"/><path class="c" d="M916.41 1436.3H928.41"/>
<path class="e" d="M944.97 1433.3V1435.2"/><path class="c" d="M938.97 1433.3H950.97"/>
<path class="e" d="M967.53 1347.1V1349.2"/><path class="c" d="M961.53 1347.1H973.53"/>
<path class="e" d="M990.09 1357.1V1360.6"/><path class="c" d="M984.09 1357.1H996.09"/>
<path class="e" d="M1012.65 1489.4V1492.5"/><path class="c" d="M1006.65 1489.4H1018.65"/>
<path class="e" d="M1052.8 1551.1V1553.6"/><path class="c" d="M1046.8 1551.1H1058.8"/>
<path class="e" d="M1075.36 1550.1V1553"/><path class="c" d="M1069.36 1550.1H1081.36"/>
<path class="e" d="M1097.92 1499.4V1502.5"/><path class="c" d="M1091.92 1499.4H1103.92"/>
<path class="e" d="M1120.48 1453.3V1455.8"/><path class="c" d="M1114.48 1453.3H1126.48"/>
<path class="e" d="M1143.04 1426.2V1428.8"/><path class="c" d="M1137.04 1426.2H1149.04"/>
<path class="e" d="M1165.6 1352.1V1355"/><path class="c" d="M1159.6 1352.1H1171.6"/>
<path class="e" d="M1188.16 1492.4V1495.5"/><path class="c" d="M1182.16 1492.4H1194.16"/>
<path class="e" d="M1228.31 1457.2V1460.7"/><path class="c" d="M1222.31 1457.2H1234.31"/>
<path class="e" d="M1250.87 1469.6V1475.7"/><path class="c" d="M1244.87 1469.6H1256.87"/>
<path class="e" d="M1273.43 1303.3V1329.8"/><path class="c" d="M1267.43 1303.3H1279.43"/>
<path class="e" d="M1295.99 1229.1V1281.7"/><path class="c" d="M1289.99 1229.1H1301.99"/>
<path class="e" d="M1318.55 1242.1V1252.7"/><path class="c" d="M1312.55 1242.1H1324.55"/>
<path class="e" d="M1341.11 1240.1V1243.6"/><path class="c" d="M1335.11 1240.1H1347.11"/>
<path class="e" d="M1363.67 1416.5V1424.6"/><path class="c" d="M1357.67 1416.5H1369.67"/>
<path class="e" d="M1403.82 1533.7V1537.6"/><path class="c" d="M1397.82 1533.7H1409.82"/>
<path class="e" d="M1426.38 1469.6V1477.7"/><path class="c" d="M1420.38 1469.6H1432.38"/>
<path class="e" d="M1448.94 1416.5V1423.6"/><path class="c" d="M1442.94 1416.5H1454.94"/>
<path class="e" d="M1471.5 1303.3V1320.8"/><path class="c" d="M1465.5 1303.3H1477.5"/>
<path class="e" d="M1494.06 1216.5V1228.6"/><path class="c" d="M1488.06 1216.5H1500.06"/>
<path class="e" d="M1516.62 1222.5V1228.6"/><path class="c" d="M1510.62 1222.5H1522.62"/>
<path class="e" d="M1539.18 1436.5V1440"/><path class="c" d="M1533.18 1436.5H1545.18"/>
<path class="e" d="M1579.33 1498V1502.6"/><path class="c" d="M1573.33 1498H1585.33"/>
<path class="e" d="M1601.89 1498V1502.6"/><path class="c" d="M1595.89 1498H1607.89"/>
<path class="e" d="M1624.45 1501.4V1504.6"/><path class="c" d="M1618.45 1501.4H1630.45"/>
<path class="e" d="M1647.01 1375V1399.5"/><path class="c" d="M1641.01 1375H1653.01"/>
<path class="e" d="M1669.57 1355.1V1360.7"/><path class="c" d="M1663.57 1355.1H1675.57"/>
<path class="e" d="M1692.13 1229.1V1247.5"/><path class="c" d="M1686.13 1229.1H1698.13"/>
<path class="e" d="M1714.69 1539V1542.2"/><path class="c" d="M1708.69 1539H1720.69"/>
<path class="e" d="M1754.84 1483.2V1487.9"/><path class="c" d="M1748.84 1483.2H1760.84"/>
<path class="e" d="M1777.4 1470.2V1475.7"/><path class="c" d="M1771.4 1470.2H1783.4"/>
<path class="e" d="M1799.96 1440.1V1443.2"/><path class="c" d="M1793.96 1440.1H1805.96"/>
<path class="e" d="M1822.52 1357.2V1370.5"/><path class="c" d="M1816.52 1357.2H1828.52"/>
<path class="e" d="M1845.08 1366.9V1370.5"/><path class="c" d="M1839.08 1366.9H1851.08"/>
<path class="e" d="M1867.64 1281V1289.6"/><path class="c" d="M1861.64 1281H1873.64"/>
<path class="e" d="M1890.2 1529.9V1532"/><path class="c" d="M1884.2 1529.9H1896.2"/>
</g>
<g class="s l" transform="scale(1.0 1)">
<text x="175.25" y="1523.7">d</text>
<text x="197.81" y="1522.3">d</text>
<text x="220.37" y="1465.2">c</text>
<text x="242.93" y="1435.1">bc</text>
<text x="265.49" y="1403.5">b</text>
<text x="288.05" y="1307.3">a</text>
<text x="310.61" y="1525.3">d</text>
<text x="350.76" y="1524.3">cd</text>
<text x="373.32" y="1522.3">cd</text>
<text x="395.88" y="1495.2">c</text>
<text x="418.44" y="1432.5">b</text>
<text x="441" y="1349.3">a</text>
<text x="463.56" y="1324.3">a</text>
<text x="486.12" y="1549.3">d</text>
<text x="526.27" y="1492.4">c</text>
<text x="548.83" y="1457.3">c</text>
<text x="571.39" y="1451.3">c</text>
<text x="593.95" y="1301">b</text>
<text x="616.51" y="1212.3">a</text>
<text x="639.07" y="1223.9">a</text>
<text x="661.63" y="1476.4">c</text>
<text x="701.78" y="1544.5">d</text>
<text x="724.34" y="1536.5">d</text>
<text x="746.9" y="1541.5">d</text>
<text x="769.46" y="1544.5">d</text>
<text x="792.02" y="1419.3">b</text>
<text x="814.58" y="1369.2">a</text>
<text x="837.14" y="1473.4">c</text>
<text x="877.29" y="1493.2">c</text>
<text x="899.85" y="1491.2">c</text>
<text x="922.41" y="1431.1">b</text>
<text x="944.97" y="1428.1">b</text>
<text x="967.53" y="1341.9">a</text>
<text x="990.09" y="1351.9">a</text>
<text x="1012.65" y="1484.2">c</text>
<text x="1052.8" y="1545.9">d</text>
<text x="1075.36" y="1544.9">d</text>
<text x="1097.92" y="1494.2">cd</text>
<text x="1120.48" y="1448.1">bc</text>
<text x="1143.04" y="1421">b</text>
<text x="1165.6" y="1346.9">a</text>
<text x="1188.16" y="1487.2">c</text>
<text x="1228.31" y="1452">c</text>
<text x="1250.87" y="1464.4">c</text>
<text x="1273.43" y="1298.1">b</text>
<text x="1295.99" y="1223.9">ab</text>
<text x="1318.55" y="1236.9">a</text>
<text x="1341.11" y="1234.9">a</text>
<text x="1363.67" y="1411.3">c</text>
<text x="1403.82" y="1528.5">e</text>
<text x="1426.38" y="1464.4">d</text>
<text x="1448.94" y="1411.3">c</text>
<text x="1471.5" y="1298.1">b</text>
<text x="1494.06" y="1211.3">a</text>
<text x="1516.62" y="1217.3">a</text>
<text x="1539.18" y="1431.3">cd</text>
<text x="1579.33" y="1492.8">c</text>
<text x="1601.89" y="1492.8">c</text>
<text x="1624.45" y="1496.2">c</text>
<text x="1647.01" y="1369.8">b</text>
<text x="1669.57" y="1349.9">b</text>
<text x="1692.13" y="1223.9">a</text>
<text x="1714.69" y="1533.8">c</text>
<text x="1754.84" y="1478">cd</text>
<text x="1777.4" y="1465">c</text>
<text x="1799.96" y="1434.9">c</text>
<text x="1822.52" y="1352">b</text>
<text x="1845.08" y="1361.7">b</text>
<text x="1867.64" y="1275.8">a</text>
<text x="1890.2" y="1524.7">d</text>
</g>
<rect class="k" x="180.5" y="1125.5" width="1730" height="457"/>
<path class="k" d="M180.5 1582.5H193M180.5 1451.5H193M180.5 1321.5H193M180.5 1190.5H193M180.5 1517.5H187M180.5 1386.5H187M180.5 1256.5H187"/>
<g class="s t">
<text x="166" y="1597.1">0</text>
<text x="166" y="1466.53">200</text>
<text x="166" y="1335.96">400</text>
<text x="166" y="1205.39">600</text>
</g>
<text class="a y" transform="translate(55.5 1353.1) rotate(-90) scale(1 1.02)">PRO(μg/g FW)</text>
<g class="s x" transform="scale(0.963 1)">
<text x="266.28" y="1650">Cf</text>
<text x="435.04" y="1650">Ec</text>
<text x="617.29" y="1650">Sd</text>
<text x="799.54" y="1650">Vn</text>
<text x="981.8" y="1650">Rh</text>
<text x="1164.05" y="1650">Ea</text>
<text x="1346.3" y="1650">Cm</text>
<text x="1528.56" y="1650">la</text>
<text x="1710.81" y="1650">Av</text>
<text x="1893.06" y="1650">Ai</text>
</g>
</g>
<g id="panel4">
<g clip-path="url(#cp3)" shape-rendering="crispEdges">
<rect x="190" y="1875" width="20" height="273" fill="#4EAB90"/>
<rect x="212" y="1851" width="20" height="297" fill="#8EB69C"/>
<rect x="235" y="2064" width="19" height="84" fill="#EDDDC3"/>
<rect x="257" y="2105" width="20" height="43" fill="#EEBF6D"/>
<rect x="279" y="2119" width="20" height="29" fill="#C1442D"/>
<rect x="301" y="2109" width="20" height="39" fill="#56686F"/>
<rect x="324" y="1971" width="19" height="177" fill="#853F81"/>
<rect x="363" y="1866" width="20" height="282" fill="#4EAB90"/>
<rect x="385" y="1896" width="20" height="252" fill="#8EB69C"/>
<rect x="408" y="2064" width="19" height="84" fill="#EDDDC3"/>
<rect x="430" y="2056" width="20" height="92" fill="#EEBF6D"/>
<rect x="452" y="2084" width="20" height="64" fill="#C1442D"/>
<rect x="474" y="2086" width="20" height="62" fill="#56686F"/>
<rect x="497" y="2112" width="19" height="36" fill="#853F81"/>
<rect x="536" y="1889" width="20" height="259" fill="#4EAB90"/>
<rect x="558" y="1841" width="20" height="307" fill="#8EB69C"/>
<rect x="581" y="2073" width="19" height="75" fill="#EDDDC3"/>
<rect x="603" y="2093" width="20" height="55" fill="#EEBF6D"/>
<rect x="625" y="2087" width="20" height="61" fill="#C1442D"/>
<rect x="647" y="2095" width="20" height="53" fill="#56686F"/>
<rect x="670" y="1883" width="19" height="265" fill="#853F81"/>
<rect x="709" y="1908" width="20" height="240" fill="#4EAB90"/>
<rect x="731" y="1928" width="20" height="220" fill="#8EB69C"/>
<rect x="754" y="1870" width="19" height="278" fill="#EDDDC3"/>
<rect x="776" y="1885" width="20" height="263" fill="#EEBF6D"/>
<rect x="798" y="1820" width="20" height="328" fill="#C1442D"/>
<rect x="820" y="2069" width="20" height="79" fill="#56686F"/>
<rect x="843" y="2067" width="19" height="81" fill="#853F81"/>
<rect x="882" y="2120" width="20" height="28" fill="#4EAB90"/>
<rect x="904" y="2120" width="20" height="28" fill="#8EB69C"/>
<rect x="927" y="2105" width="19" height="43" fill="#EDDDC3"/>
<rect x="949" y="2097" width="20" height="51" fill="#EEBF6D"/>
<rect x="971" y="1984" width="20" height="164" fill="#C1442D"/>
<rect x="993" y="1905" width="20" height="243" fill="#56686F"/>
<rect x="1016" y="2120" width="19" height="28" fill="#853F81"/>
<rect x="1055" y="2093" width="20" height="55" fill="#4EAB90"/>
<rect x="1077" y="2091" width="20" height="57" fill="#8EB69C"/>
<rect x="1100" y="2042" width="19" height="106" fill="#EDDDC3"/>
<rect x="1122" y="2057" width="20" height="91" fill="#EEBF6D"/>
<rect x="1144" y="2020" width="20" height="128" fill="#C1442D"/>
<rect x="1166" y="2114" width="20" height="34" fill="#56686F"/>
<rect x="1189" y="2121" width="19" height="27" fill="#853F81"/>
<rect x="1228" y="2015" width="20" height="133" fill="#4EAB90"/>
<rect x="1250" y="2026" width="20" height="122" fill="#8EB69C"/>
<rect x="1273" y="2048" width="19" height="100" fill="#EDDDC3"/>
<rect x="1295" y="1988" width="20" height="160" fill="#EEBF6D"/>
<rect x="1317" y="1908" width="20" height="240" fill="#C1442D"/>
<rect x="1339" y="2026" width="20" height="122" fill="#56686F"/>
<rect x="1362" y="2010" width="19" height="138" fill="#853F81"/>
<rect x="1401" y="2075" width="20" height="73" fill="#4EAB90"/>
<rect x="1423" y="2071" width="20" height="77" fill="#8EB69C"/>
<rect x="1446" y="2107" width="19" height="41" fill="#EDDDC3"/>
<rect x="1468" y="2102" width="20" height="46" fill="#EEBF6D"/>
<rect x="1490" y="2090" width="20" height="58" fill="#C1442D"/>
<rect x="1512" y="2103" width="20" height="45" fill="#56686F"/>
<rect x="1535" y="2109" width="19" height="39" fill="#853F81"/>
<rect x="1574" y="2087" width="20" height="61" fill="#4EAB90"/>
<rect x="1596" y="2084" width="20" height="64" fill="#8EB69C"/>
<rect x="1619" y="2088" width="19" height="60" fill="#EDDDC3"/>
<rect x="1641" y="2033" width="20" height="115" fill="#EEBF6D"/>
<rect x="1663" y="2078" width="20" height="70" fill="#C1442D"/>
<rect x="1685" y="2045" width="20" height="103" fill="#56686F"/>
<rect x="1708" y="2112" width="19" height="36" fill="#853F81"/>
<rect x="1747" y="2092" width="20" height="56" fill="#4EAB90"/>
<rect x="1769" y="2089" width="20" height="59" fill="#8EB69C"/>
<rect x="1792" y="2114" width="19" height="34" fill="#EDDDC3"/>
<rect x="1814" y="2029" width="20" height="119" fill="#EEBF6D"/>
<rect x="1836" y="2027" width="20" height="121" fill="#C1442D"/>
<rect x="1858" y="2041" width="20" height="107" fill="#56686F"/>
<rect x="1881" y="2090" width="19" height="58" fill="#853F81"/>
</g>
<g clip-path="url(#cp3)">
<path class="e" d="M200.25 1871.5V1877.6"/><path class="c" d="M194.25 1871.5H206.25"/>
<path class="e" d="M222.5 1843.7V1853.6"/><path class="c" d="M216.5 1843.7H228.5"/>
<path class="e" d="M244.75 2061.5V2066"/><path class="c" d="M238.75 2061.5H250.75"/>
<path class="e" d="M267 2103.6V2107.7"/><path class="c" d="M261 2103.6H273"/>
<path class="e" d="M289.25 2117.6V2121.1"/><path class="c" d="M283.25 2117.6H295.25"/>
<path class="e" d="M311.5 2106.6V2111.7"/><path class="c" d="M305.5 2106.6H317.5"/>
<path class="e" d="M333.75 1970.3V1973.8"/><path class="c" d="M327.75 1970.3H339.75"/>
<path class="e" d="M373.25 1864.5V1868.2"/><path class="c" d="M367.25 1864.5H379.25"/>
<path class="e" d="M395.5 1882.4V1898.7"/><path class="c" d="M389.5 1882.4H401.5"/>
<path class="e" d="M417.75 2062.5V2066"/><path class="c" d="M411.75 2062.5H423.75"/>
<path class="e" d="M440 2053.5V2058"/><path class="c" d="M434 2053.5H446"/>
<path class="e" d="M462.25 2082.6V2086.1"/><path class="c" d="M456.25 2082.6H468.25"/>
<path class="e" d="M484.5 2081.5V2088.1"/><path class="c" d="M478.5 2081.5H490.5"/>
<path class="e" d="M506.75 2112.6V2114.1"/><path class="c" d="M500.75 2112.6H512.75"/>
<path class="e" d="M546.25 1884.3V1891.8"/><path class="c" d="M540.25 1884.3H552.25"/>
<path class="e" d="M568.5 1825.6V1843.7"/><path class="c" d="M562.5 1825.6H574.5"/>
<path class="e" d="M590.75 2071.6V2075.6"/><path class="c" d="M584.75 2071.6H596.75"/>
<path class="e" d="M613 2090.3V2095.8"/><path class="c" d="M607 2090.3H619"/>
<path class="e" d="M635.25 2081.7V2089.8"/><path class="c" d="M629.25 2081.7H641.25"/>
<path class="e" d="M657.5 2089.3V2097.8"/><path class="c" d="M651.5 2089.3H663.5"/>
<path class="e" d="M679.75 1873.3V1885.8"/><path class="c" d="M673.75 1873.3H685.75"/>
<path class="e" d="M719.25 1905.3V1910.8"/><path class="c" d="M713.25 1905.3H725.25"/>
<path class="e" d="M741.5 1925.4V1930.9"/><path class="c" d="M735.5 1925.4H747.5"/>
<path class="e" d="M763.75 1854.2V1872.8"/><path class="c" d="M757.75 1854.2H769.75"/>
<path class="e" d="M786 1884.3V1887.8"/><path class="c" d="M780 1884.3H792"/>
<path class="e" d="M808.25 1788.1V1822.7"/><path class="c" d="M802.25 1788.1H814.25"/>
<path class="e" d="M830.5 2058.6V2071.7"/><path class="c" d="M824.5 2058.6H836.5"/>
<path class="e" d="M852.75 2055.6V2069.7"/><path class="c" d="M846.75 2055.6H858.75"/>
<path class="e" d="M892.25 2120.5V2123"/><path class="c" d="M886.25 2120.5H898.25"/>
<path class="e" d="M914.5 2120.5V2123"/><path class="c" d="M908.5 2120.5H920.5"/>
<path class="e" d="M936.75 2104.5V2107.4"/><path class="c" d="M930.75 2104.5H942.75"/>
<path class="e" d="M959 2096.4V2099.4"/><path class="c" d="M953 2096.4H965"/>
<path class="e" d="M981.25 1984.2V1986.7"/><path class="c" d="M975.25 1984.2H987.25"/>
<path class="e" d="M1003.5 1904.1V1907.6"/><path class="c" d="M997.5 1904.1H1009.5"/>
<path class="e" d="M1025.75 2120.5V2122.6"/><path class="c" d="M1019.75 2120.5H1031.75"/>
<path class="e" d="M1065.25 2093.4V2095.9"/><path class="c" d="M1059.25 2093.4H1071.25"/>
<path class="e" d="M1087.5 2091.4V2093.9"/><path class="c" d="M1081.5 2091.4H1093.5"/>
<path class="e" d="M1109.75 2040.3V2044.4"/><path class="c" d="M1103.75 2040.3H1115.75"/>
<path class="e" d="M1132 2055.4V2059.5"/><path class="c" d="M1126 2055.4H1138"/>
<path class="e" d="M1154.25 2020.3V2022.4"/><path class="c" d="M1148.25 2020.3H1160.25"/>
<path class="e" d="M1176.5 2113.5V2116"/><path class="c" d="M1170.5 2113.5H1182.5"/>
<path class="e" d="M1198.75 2121.1V2123.6"/><path class="c" d="M1192.75 2121.1H1204.75"/>
<path class="e" d="M1238.25 2014.3V2017.8"/><path class="c" d="M1232.25 2014.3H1244.25"/>
<path class="e" d="M1260.5 2022.3V2028.8"/><path class="c" d="M1254.5 2022.3H1266.5"/>
<path class="e" d="M1282.75 2046.3V2050.9"/><path class="c" d="M1276.75 2046.3H1288.75"/>
<path class="e" d="M1305 1987.2V1990.3"/><path class="c" d="M1299 1987.2H1311"/>
<path class="e" d="M1327.25 1904.1V1910.6"/><path class="c" d="M1321.25 1904.1H1333.25"/>
<path class="e" d="M1349.5 2026.3V2028.8"/><path class="c" d="M1343.5 2026.3H1355.5"/>
<path class="e" d="M1371.75 2008.3V2012.8"/><path class="c" d="M1365.75 2008.3H1377.75"/>
<path class="e" d="M1411.25 2073.4V2077.3"/><path class="c" d="M1405.25 2073.4H1417.25"/>
<path class="e" d="M1433.5 2071.4V2073.9"/><path class="c" d="M1427.5 2071.4H1439.5"/>
<path class="e" d="M1455.75 2106.5V2109.6"/><path class="c" d="M1449.75 2106.5H1461.75"/>
<path class="e" d="M1478 2101.5V2104.6"/><path class="c" d="M1472 2101.5H1484"/>
<path class="e" d="M1500.25 2085.4V2092.9"/><path class="c" d="M1494.25 2085.4H1506.25"/>
<path class="e" d="M1522.5 2102.5V2105.6"/><path class="c" d="M1516.5 2102.5H1528.5"/>
<path class="e" d="M1544.75 2108.5V2111.6"/><path class="c" d="M1538.75 2108.5H1550.75"/>
<path class="e" d="M1584.25 2084.1V2089.1"/><path class="c" d="M1578.25 2084.1H1590.25"/>
<path class="e" d="M1606.5 2082.1V2086.6"/><path class="c" d="M1600.5 2082.1H1612.5"/>
<path class="e" d="M1628.75 2085.1V2090.7"/><path class="c" d="M1622.75 2085.1H1634.75"/>
<path class="e" d="M1651 2028.2V2035.8"/><path class="c" d="M1645 2028.2H1657"/>
<path class="e" d="M1673.25 2072.3V2080.5"/><path class="c" d="M1667.25 2072.3H1679.25"/>
<path class="e" d="M1695.5 2037.3V2047.6"/><path class="c" d="M1689.5 2037.3H1701.5"/>
<path class="e" d="M1717.75 2111.1V2114.7"/><path class="c" d="M1711.75 2111.1H1723.75"/>
<path class="e" d="M1757.25 2090.2V2094.1"/><path class="c" d="M1751.25 2090.2H1763.25"/>
<path class="e" d="M1779.5 2087.1V2091.1"/><path class="c" d="M1773.5 2087.1H1785.5"/>
<path class="e" d="M1801.75 2113.1V2116.7"/><path class="c" d="M1795.75 2113.1H1807.75"/>
<path class="e" d="M1824 2026.2V2031.8"/><path class="c" d="M1818 2026.2H1830"/>
<path class="e" d="M1846.25 2023.1V2029.7"/><path class="c" d="M1840.25 2023.1H1852.25"/>
<path class="e" d="M1868.5 2033.3V2043.5"/><path class="c" d="M1862.5 2033.3H1874.5"/>
<path class="e" d="M1890.75 2087.1V2092.7"/><path class="c" d="M1884.75 2087.1H1896.75"/>
</g>
<g class="s l" transform="scale(1.0 1)">
<text x="200.25" y="1866.3">a</text>
<text x="222.5" y="1838.5">a</text>
<text x="244.75" y="2056.3">c</text>
<text x="267" y="2098.4">d</text>
<text x="289.25" y="2112.4">d</text>
<text x="311.5" y="2101.4">d</text>
<text x="333.75" y="1965.1">b</text>
<text x="373.25" y="1859.3">a</text>
<text x="395.5" y="1877.2">a</text>
<text x="417.75" y="2057.3">b</text>
<text x="440" y="2048.3">b</text>
<text x="462.25" y="2077.4">bc</text>
<text x="484.5" y="2076.3">bc</text>
<text x="506.75" y="2107.4">c</text>
<text x="546.25" y="1879.1">b</text>
<text x="568.5" y="1820.4">a</text>
<text x="590.75" y="2066.4">c</text>
<text x="613" y="2085.1">c</text>
<text x="635.25" y="2076.5">c</text>
<text x="657.5" y="2084.1">c</text>
<text x="679.75" y="1868.1">b</text>
<text x="719.25" y="1900.1">bc</text>
<text x="741.5" y="1920.2">c</text>
<text x="763.75" y="1849">b</text>
<text x="786" y="1879.1">b</text>
<text x="808.25" y="1782.9">a</text>
<text x="830.5" y="2053.4">d</text>
<text x="852.75" y="2050.4">d</text>
<text x="892.25" y="2115.3">c</text>
<text x="914.5" y="2115.3">c</text>
<text x="936.75" y="2099.3">c</text>
<text x="959" y="2091.2">c</text>
<text x="981.25" y="1979">b</text>
<text x="1003.5" y="1898.9">a</text>
<text x="1025.75" y="2115.3">c</text>
<text x="1065.25" y="2088.2">bc</text>
<text x="1087.5" y="2086.2">bc</text>
<text x="1109.75" y="2035.1">a</text>
<text x="1132" y="2050.2">ab</text>
<text x="1154.25" y="2015.1">a</text>
<text x="1176.5" y="2108.3">c</text>
<text x="1198.75" y="2115.9">c</text>
<text x="1238.25" y="2009.1">bc</text>
<text x="1260.5" y="2017.1">bc</text>
<text x="1282.75" y="2041.1">c</text>
<text x="1305" y="1982">b</text>
<text x="1327.25" y="1898.9">a</text>
<text x="1349.5" y="2021.1">bc</text>
<text x="1371.75" y="2003.1">bc</text>
<text x="1411.25" y="2068.2">a</text>
<text x="1433.5" y="2066.2">a</text>
<text x="1455.75" y="2101.3">a</text>
<text x="1478" y="2096.3">a</text>
<text x="1500.25" y="2080.2">a</text>
<text x="1522.5" y="2097.3">a</text>
<text x="1544.75" y="2103.3">a</text>
<text x="1584.25" y="2078.9">c</text>
<text x="1606.5" y="2076.9">bc</text>
<text x="1628.75" y="2079.9">c</text>
<text x="1651" y="2023">a</text>
<text x="1673.25" y="2067.1">bc</text>
<text x="1695.5" y="2032.1">ab</text>
<text x="1717.75" y="2105.9">c</text>
<text x="1757.25" y="2085">b</text>
<text x="1779.5" y="2081.9">b</text>
<text x="1801.75" y="2107.9">b</text>
<text x="1824" y="2021">a</text>
<text x="1846.25" y="2017.9">a</text>
<text x="1868.5" y="2028.1">a</text>
<text x="1890.75" y="2081.9">b</text>
</g>
<rect class="k" x="180.5" y="1692.5" width="1730" height="456"/>
<path class="k" d="M180.5 2148.5H193M180.5 1996.5H193M180.5 1844.5H193M180.5 1692.5H193M180.5 2072.5H187M180.5 1920.5H187M180.5 1768.5H187"/>
<g class="s t">
<text x="166" y="2163.1">0</text>
<text x="166" y="2011.1">1000</text>
<text x="166" y="1859.1">2000</text>
<text x="166" y="1707.1">3000</text>
</g>
<text class="a y" transform="translate(47.05 1920) rotate(-90) scale(1 1.02)">SOD(U/g FW)</text>
<g class="s x" transform="scale(0.963 1)">
<text x="277.78" y="2216">Cf</text>
<text x="457.42" y="2216">Ec</text>
<text x="637.07" y="2216">Sd</text>
<text x="816.72" y="2216">Vn</text>
<text x="996.37" y="2216">Rh</text>
<text x="1176.01" y="2216">Ea</text>
<text x="1355.66" y="2216">Cm</text>
<text x="1535.31" y="2216">la</text>
<text x="1714.95" y="2216">Av</text>
<text x="1894.6" y="2216">Ai</text>
</g>
</g>
<g id="legend" shape-rendering="crispEdges">
<rect x="309" y="2260" width="87" height="41" fill="#4EAB90"/><text class="a g" x="407" y="2293.9">DS0</text>
<rect x="491" y="2260" width="87" height="41" fill="#8EB69C"/><text class="a g" x="588.4" y="2293.9">DS10</text>
<rect x="694" y="2260" width="87" height="41" fill="#EDDDC3"/><text class="a g" x="791.2" y="2293.9">DS20</text>
<rect x="897" y="2260" width="87" height="41" fill="#EEBF6D"/><text class="a g" x="994" y="2293.9">DS30</text>
<rect x="1100" y="2260" width="87" height="41" fill="#C1442D"/><text class="a g" x="1197.4" y="2293.9">DS40</text>
<rect x="1303" y="2260" width="87" height="41" fill="#56686F"/><text class="a g" x="1400.2" y="2293.9">DS50</text>
<rect x="1506" y="2260" width="87" height="41" fill="#853F81"/><text class="a g" x="1603.4" y="2293.9">RE10</text>
</g>
</svg>
</body>
</html>
